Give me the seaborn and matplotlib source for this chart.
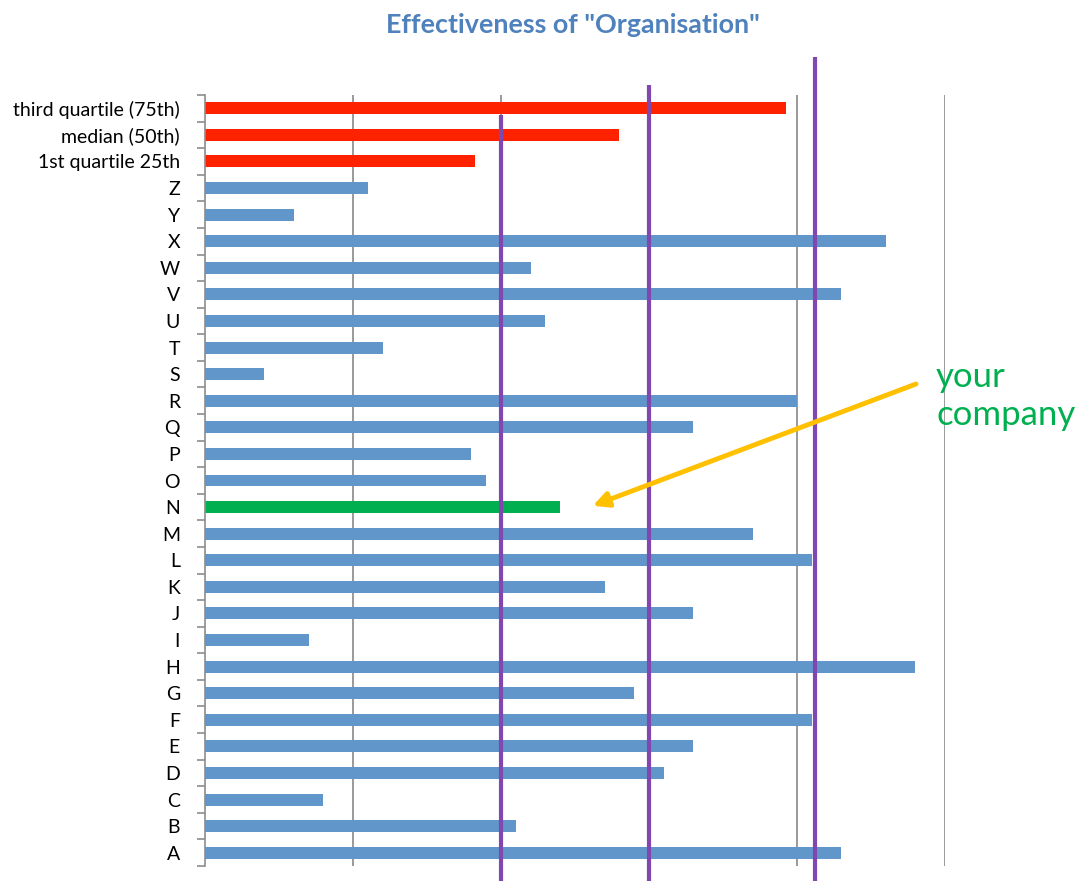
import matplotlib
matplotlib.use("Agg")
import matplotlib.pyplot as plt
import matplotlib.transforms as mtransforms
import seaborn as sns
import pandas as pd

# ---------------- data ----------------
categories = ["third quartile (75th)", "median (50th)", "1st quartile 25th",
              "Z", "Y", "X", "W", "V", "U", "T", "S", "R", "Q", "P", "O", "N",
              "M", "L", "K", "J", "I", "H", "G", "F", "E", "D", "C", "B", "A"]
values = [3.925, 2.8, 1.825,
          1.1, 0.6, 4.6, 2.2, 4.3, 2.3, 1.2, 0.4, 4.0, 3.3, 1.8, 1.9, 2.4,
          3.7, 4.1, 2.7, 3.3, 0.7, 4.8, 2.9, 4.1, 3.3, 3.1, 0.8, 2.1, 4.3]
groups = ["quartile"] * 3 + ["company"] * 12 + ["your company"] + ["company"] * 13
marker_lines = [2.0, 3.0, 4.12]          # purple reference lines (x values)
highlight = "N"
title = 'Effectiveness of "Organisation"'
annotation = "your\ncompany"

palette = {"quartile": "#FF2200", "company": "#6196CB", "your company": "#00B050"}

df = pd.DataFrame({"category": categories, "value": values, "group": groups})

sns.set_style("white")
plt.rcParams["font.family"] = ["Lato", "DejaVu Sans"]

fig = plt.figure(figsize=(10.91, 8.81), dpi=100)
W, H = 1091, 881
ax_left, ax_right, ax_top, ax_bottom = 205, 945, 95, 866
ax = fig.add_axes([ax_left / W, 1 - ax_bottom / H, (ax_right - ax_left) / W, (ax_bottom - ax_top) / H])

sns.barplot(data=df, y="category", x="value", hue="group", palette=palette,
            order=categories, orient="h", dodge=False, width=0.45,
            legend=False, ax=ax, saturation=1, linewidth=0)

ax.set_xlim(0, 5)
ax.set_ylim(len(categories) - 0.5, -0.5)
ax.set_xlabel("")
ax.set_ylabel("")
ax.set_xticks([1, 2, 3, 4, 5])
ax.set_xticklabels([])
ax.tick_params(axis="x", length=0)
ax.xaxis.grid(True, color="#9A9A9A", linewidth=1.4)
ax.set_axisbelow(True)

ax.set_yticks(range(len(categories)))
ax.set_yticklabels(categories, fontsize=14, color="#000000")
ax.tick_params(axis="y", which="major", left=False, length=0, pad=18)
ax.set_yticks([i - 0.5 for i in range(len(categories) + 1)], minor=True)
ax.tick_params(axis="y", which="minor", left=True, length=6, width=1.2,
               color="#8C8C8C", direction="out")

for s in ["top", "right", "bottom"]:
    ax.spines[s].set_visible(False)
ax.spines["left"].set_color("#8C8C8C")
ax.spines["left"].set_linewidth(1.2)

# purple reference lines extending beyond the axes
trans = mtransforms.blended_transform_factory(ax.transData, ax.transAxes)
tops_px = [115, 85, 57]
for xv, tp in zip(marker_lines, tops_px):
    top_frac = (ax_bottom - tp) / (ax_bottom - ax_top)
    ax.plot([xv, xv], [-0.02, top_frac], transform=trans, color="#8047B0",
            linewidth=3, clip_on=False, zorder=5, solid_capstyle="butt")

# title
fig.text(573 / W, 1 - 25 / H, title, ha="center", va="center", fontsize=19.4,
         fontweight="bold", color="#4F81BD")

# annotation arrow and text
hi = categories.index(highlight)
ax.annotate("", xy=(2.62, hi - 0.05), xycoords="data",
            xytext=(916 / W, 1 - 384 / H), textcoords="figure fraction",
            arrowprops=dict(arrowstyle="-|>,head_length=0.9,head_width=0.45",
                            color="#FFC000", lw=3.5, shrinkA=0, shrinkB=0),
            annotation_clip=False, zorder=6)
fig.text(936 / W, 1 - 396 / H, annotation, ha="left", va="center", fontsize=25,
         color="#00B050", linespacing=1.2)

fig.savefig("out.png", dpi=100)
